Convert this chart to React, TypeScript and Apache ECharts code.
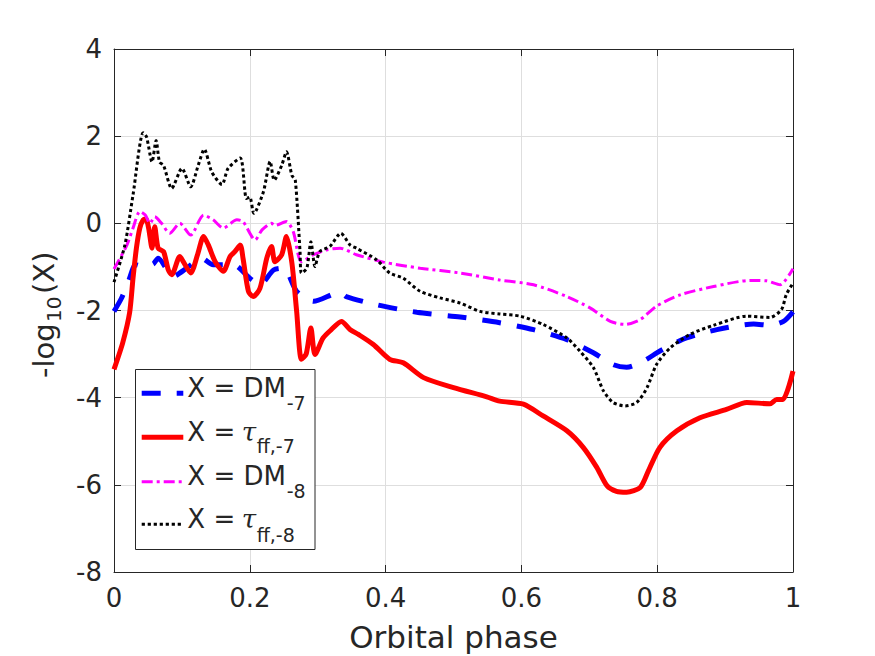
import React, { useEffect, useRef } from "react";
import * as echarts from "echarts";

// ---- data ----
const xTicks = [0, 0.2, 0.4, 0.6, 0.8, 1];
const yTicks = [-8, -6, -4, -2, 0, 2, 4];

const dm7X = [0, 0.011, 0.022, 0.032, 0.045, 0.058, 0.065, 0.087, 0.107, 0.129, 0.146, 0.176, 0.2, 0.215, 0.235, 0.25, 0.269, 0.294, 0.333, 0.342, 0.387, 0.446, 0.51, 0.568, 0.618, 0.667, 0.706, 0.735, 0.755, 0.78, 0.804, 0.843, 0.888, 0.942, 0.966, 0.986, 1.0];
const dm7Y = [-2.02, -1.72, -1.3, -0.95, -1.0, -0.93, -0.8, -1.22, -1.03, -0.8, -0.95, -0.95, -1.26, -1.41, -1.07, -1.03, -1.56, -1.79, -1.58, -1.68, -1.87, -2.04, -2.15, -2.28, -2.44, -2.67, -2.97, -3.24, -3.3, -3.16, -2.93, -2.63, -2.44, -2.31, -2.34, -2.25, -2.03];

const tau7X = [0, 0.013, 0.023, 0.028, 0.033, 0.038, 0.043, 0.047, 0.051, 0.056, 0.06, 0.065, 0.073, 0.08, 0.085, 0.097, 0.102, 0.113, 0.123, 0.132, 0.139, 0.149, 0.161, 0.171, 0.178, 0.186, 0.19, 0.198, 0.205, 0.215, 0.225, 0.232, 0.237, 0.247, 0.254, 0.262, 0.269, 0.276, 0.283, 0.29, 0.296, 0.308, 0.32, 0.335, 0.348, 0.36, 0.382, 0.406, 0.426, 0.456, 0.5, 0.549, 0.568, 0.603, 0.632, 0.667, 0.691, 0.711, 0.726, 0.74, 0.755, 0.775, 0.787, 0.804, 0.829, 0.863, 0.902, 0.932, 0.966, 0.976, 0.985, 1.0];
const tau7Y = [-3.35, -2.73, -2.05, -1.26, -0.57, -0.11, 0.08, 0.1, -0.11, -0.57, -0.08, -0.57, -0.65, -1.07, -1.18, -0.76, -0.88, -1.14, -0.72, -0.3, -0.5, -0.88, -1.1, -0.76, -0.65, -0.5, -0.8, -1.56, -1.68, -1.49, -0.8, -0.53, -0.88, -0.72, -0.3, -0.91, -2.02, -3.12, -3.0, -2.4, -3.01, -2.63, -2.44, -2.25, -2.44, -2.55, -2.78, -3.12, -3.2, -3.54, -3.77, -3.98, -4.08, -4.15, -4.42, -4.76, -5.14, -5.6, -6.02, -6.15, -6.17, -6.06, -5.68, -5.14, -4.76, -4.46, -4.27, -4.11, -4.14, -4.04, -4.04, -3.39];

const dm8X = [0, 0.019, 0.028, 0.038, 0.046, 0.053, 0.06, 0.07, 0.082, 0.097, 0.113, 0.132, 0.146, 0.161, 0.181, 0.19, 0.208, 0.218, 0.232, 0.237, 0.254, 0.264, 0.276, 0.294, 0.313, 0.333, 0.357, 0.397, 0.451, 0.51, 0.568, 0.618, 0.667, 0.701, 0.731, 0.753, 0.775, 0.799, 0.834, 0.883, 0.937, 0.961, 0.981, 1.0];
const dm8Y = [-1.05, -0.5, -0.11, 0.27, 0.19, 0, 0.15, 0, -0.23, 0, -0.27, 0.19, 0.08, -0.11, 0.08, 0.04, -0.38, -0.15, 0, -0.05, 0.04, -0.19, -0.88, -0.72, -0.61, -0.57, -0.72, -0.89, -1.03, -1.14, -1.3, -1.41, -1.68, -1.94, -2.25, -2.32, -2.21, -1.9, -1.64, -1.45, -1.31, -1.32, -1.41, -1.04];

const tau8X = [0, 0.016, 0.028, 0.043, 0.048, 0.056, 0.062, 0.067, 0.073, 0.085, 0.1, 0.113, 0.124, 0.133, 0.144, 0.159, 0.168, 0.186, 0.195, 0.2, 0.206, 0.22, 0.23, 0.236, 0.247, 0.254, 0.262, 0.267, 0.274, 0.276, 0.284, 0.29, 0.296, 0.303, 0.318, 0.334, 0.348, 0.357, 0.387, 0.406, 0.426, 0.451, 0.48, 0.51, 0.539, 0.568, 0.598, 0.632, 0.667, 0.686, 0.706, 0.721, 0.735, 0.753, 0.77, 0.785, 0.799, 0.819, 0.848, 0.883, 0.932, 0.966, 0.983, 0.99, 1.0];
const tau8Y = [-1.35, -0.5, 0.65, 2.08, 1.98, 1.41, 1.9, 1.41, 1.33, 0.8, 1.26, 0.84, 1.33, 1.7, 1.18, 0.89, 1.26, 1.5, 0.57, 0.6, 0.23, 0.72, 1.42, 0.99, 1.33, 1.64, 1.1, 0.99, -0.65, -1.14, -1.03, -0.42, -0.99, -0.65, -0.53, -0.23, -0.5, -0.57, -0.84, -1.14, -1.26, -1.56, -1.71, -1.83, -2.02, -2.08, -2.13, -2.32, -2.63, -2.93, -3.31, -3.85, -4.11, -4.19, -4.11, -3.77, -3.24, -2.86, -2.55, -2.34, -2.13, -2.16, -1.98, -1.64, -1.37];

const FONT = "'DejaVu Sans', sans-serif";
const INK = "#262626";

const zip = (xs: number[], ys: number[]) => xs.map((x, i) => [x, ys[i]]);

const styles = {
  dm7: { color: "#0000ff", width: 5, dash: [19, 16] as number[] | null },
  tau7: { color: "#ff0000", width: 5, dash: null as number[] | null },
  dm8: { color: "#ff00ff", width: 3, dash: [11, 4, 3, 4] as number[] | null },
  tau8: { color: "#000000", width: 3, dash: [3.2, 2.8] as number[] | null },
};

export default function App() {
  const ref = useRef<HTMLDivElement>(null);

  useEffect(() => {
    document.body.style.margin = "0";
    if (!ref.current) return;
    const chart = echarts.init(ref.current, undefined, { renderer: "svg" });

    const mkSeries = (name: string, xs: number[], ys: number[], st: any) => ({
      name,
      type: "line",
      data: zip(xs, ys),
      showSymbol: false,
      smooth: 0.25,
      lineStyle: { color: st.color, width: st.width, type: st.dash ? st.dash : "solid", cap: "butt" },
      itemStyle: { color: st.color },
      z: 3,
    });

    const txt = (text: string, x: number, y: number, size: number, extra: any = {}) => ({
      type: "text",
      x,
      y,
      z: 100,
      ...extra,
      style: {
        text,
        fontFamily: FONT,
        fontSize: size,
        fill: INK,
        align: "left",
        verticalAlign: "middle",
        ...(extra.style || {}),
      },
    });

    const legendRows = [
      { y: 393.3, st: styles.dm7 },
      { y: 437.3, st: styles.tau7 },
      { y: 481.7, st: styles.dm8 },
      { y: 524.3, st: styles.tau8 },
    ];

    const tauStyle = { fontFamily: "'DejaVu Serif', serif", fontStyle: "italic" };

    const graphic: any[] = [
      // y-axis title
      txt("-log", 44.3, 378, 29, { rotation: Math.PI / 2 }),
      txt("10", 54.3, 322, 20, { rotation: Math.PI / 2 }),
      txt("(X)", 44.3, 294, 29, { rotation: Math.PI / 2 }),
      // x-axis title
      txt("Orbital phase", 453.5, 637, 31, { style: { align: "center" } }),
      // legend box
      {
        type: "rect",
        z: 90,
        shape: { x: 135.5, y: 369.5, width: 179.5, height: 180 },
        style: { fill: "#ffffff", stroke: INK, lineWidth: 1 },
      },
      ...legendRows.map((r) => ({
        type: "line",
        z: 95,
        shape: { x1: 141.7, y1: r.y, x2: 183.3, y2: r.y },
        style: { stroke: r.st.color, lineWidth: r.st.width, lineDash: r.st.dash || null, lineCap: "butt" },
      })),
      txt("X = DM", 187.3, 387.6, 26),
      txt("-7", 286.7, 403.4, 19),
      txt("X = ", 187.3, 431.9, 26),
      txt("τ", 241.7, 431.9, 26, { style: tauStyle }),
      txt("ff,-7", 256.7, 446.4, 19),
      txt("X = DM", 187.3, 475.9, 26),
      txt("-8", 286.7, 491.4, 19),
      txt("X = ", 187.3, 518.9, 26),
      txt("τ", 241.7, 518.9, 26, { style: tauStyle }),
      txt("ff,-8", 256.7, 535, 19),
    ];

    const axisCommon = {
      type: "value",
      axisLine: { show: true, onZero: false, lineStyle: { color: INK, width: 1 } },
      axisTick: { show: true, inside: true, length: 7, lineStyle: { color: INK, width: 1 } },
    };

    chart.setOption({
      animation: false,
      backgroundColor: "#ffffff",
      grid: { left: 114, top: 49, width: 679, height: 523, containLabel: false, outerBoundsMode: "none" },
      xAxis: [
        {
          ...axisCommon,
          min: xTicks[0],
          max: xTicks[xTicks.length - 1],
          interval: 0.2,
          position: "bottom",
          axisLabel: { color: INK, fontFamily: FONT, fontSize: 26, margin: 13 },
          splitLine: { show: true, lineStyle: { color: "#dedede", width: 1 } },
        },
        {
          ...axisCommon,
          min: xTicks[0],
          max: xTicks[xTicks.length - 1],
          interval: 0.2,
          position: "top",
          axisLabel: { show: false },
          splitLine: { show: false },
        },
      ],
      yAxis: [
        {
          ...axisCommon,
          min: yTicks[0],
          max: yTicks[yTicks.length - 1],
          interval: 2,
          position: "left",
          axisLabel: { color: INK, fontFamily: FONT, fontSize: 26, margin: 12 },
          splitLine: { show: true, lineStyle: { color: "#dedede", width: 1 } },
        },
        {
          ...axisCommon,
          min: yTicks[0],
          max: yTicks[yTicks.length - 1],
          interval: 2,
          position: "right",
          axisLabel: { show: false },
          splitLine: { show: false },
        },
      ],
      series: [
        mkSeries("X = DM-7", dm7X, dm7Y, styles.dm7),
        mkSeries("X = tau ff,-7", tau7X, tau7Y, styles.tau7),
        mkSeries("X = DM-8", dm8X, dm8Y, styles.dm8),
        mkSeries("X = tau ff,-8", tau8X, tau8Y, styles.tau8),
      ],
      graphic,
    });

    return () => chart.dispose();
  }, []);

  return <div ref={ref} style={{ width: 875, height: 656 }} />;
}
